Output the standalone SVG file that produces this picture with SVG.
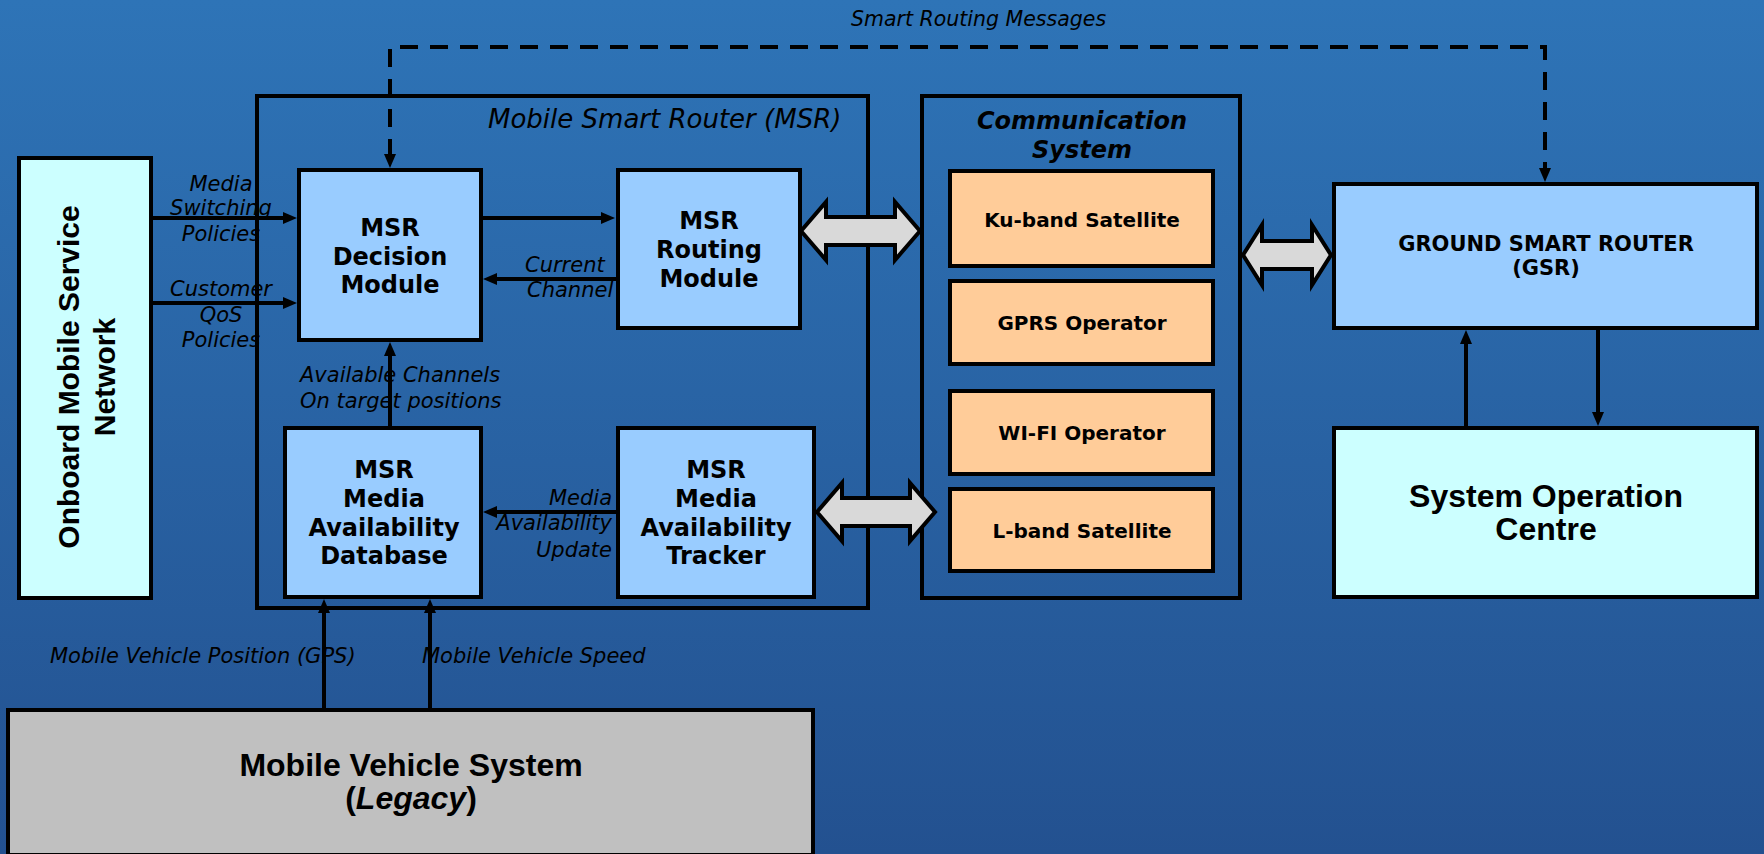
<svg xmlns="http://www.w3.org/2000/svg" width="1764" height="854" viewBox="0 0 1764 854">
<defs>
<linearGradient id="bg" x1="0" y1="0" x2="0" y2="1">
<stop offset="0" stop-color="#2E74B7"/>
<stop offset="1" stop-color="#235190"/>
</linearGradient>
<marker id="ah" viewBox="0 0 14 12" markerWidth="14" markerHeight="12" markerUnits="userSpaceOnUse" refX="3" refY="6" orient="auto-start-reverse">
<path d="M0,0 L14,6 L0,12 z" fill="#000"/>
</marker>
</defs>
<style>
.box{stroke:#000;stroke-width:4}
.blue{fill:#99CCFF}
.cyan{fill:#CCFFFF}
.orange{fill:#FFCC99}
.grey{fill:#C0C0C0}
.cont{fill:none;stroke:#000;stroke-width:4}
.conn{fill:none;stroke:#000;stroke-width:4}
.dash{stroke-dasharray:18 12}
.dbl{fill:#D9D9D9;stroke:#000;stroke-width:4;stroke-linejoin:miter}
.nb{font-family:"DejaVu Sans",Verdana,sans-serif;font-weight:bold;font-size:24px;text-anchor:middle;fill:#000}
.ob{font-family:"DejaVu Sans",Verdana,sans-serif;font-weight:bold;font-size:20px;text-anchor:middle;fill:#000}
.ab{font-family:"Liberation Sans",Arial,sans-serif;font-weight:bold;text-anchor:middle;fill:#000}
.lbl{font-family:"DejaVu Sans",Verdana,sans-serif;font-style:italic;font-size:21px;fill:#000}
</style>
<rect x="0" y="0" width="1764" height="854" fill="url(#bg)"/>

<g id="msr-container">
<rect class="cont" x="257" y="96" width="611" height="512"/>
<text class="lbl" x="488" y="128" style="font-size:26px">Mobile Smart Router (MSR)</text>
</g>
<g id="comm-container">
<rect class="cont" x="922" y="96" width="318" height="502"/>
<text class="nb" x="1082" y="129" style="font-style:italic">Communication</text>
<text class="nb" x="1082" y="158" style="font-style:italic">System</text>
</g>

<g id="onboard">
<rect class="box cyan" x="19" y="158" width="132" height="440"/>
<text class="ab" transform="translate(79,377) rotate(-90)" style="font-size:30px">Onboard Mobile Service</text>
<text class="ab" transform="translate(115,377) rotate(-90)" style="font-size:30px">Network</text>
</g>

<g id="decision">
<rect class="box blue" x="299" y="170" width="182" height="170"/>
<text class="nb" x="390" y="236">MSR</text>
<text class="nb" x="390" y="265">Decision</text>
<text class="nb" x="390" y="293">Module</text>
</g>

<g id="routing">
<rect class="box blue" x="618" y="170" width="182" height="158"/>
<text class="nb" x="709" y="229">MSR</text>
<text class="nb" x="709" y="258">Routing</text>
<text class="nb" x="709" y="287">Module</text>
</g>

<g id="database">
<rect class="box blue" x="285" y="428" width="196" height="169"/>
<text class="nb" x="384" y="478">MSR</text>
<text class="nb" x="384" y="507">Media</text>
<text class="nb" x="384" y="536">Availability</text>
<text class="nb" x="384" y="564">Database</text>
</g>

<g id="tracker">
<rect class="box blue" x="618" y="428" width="196" height="169"/>
<text class="nb" x="716" y="478">MSR</text>
<text class="nb" x="716" y="507">Media</text>
<text class="nb" x="716" y="536">Availability</text>
<text class="nb" x="716" y="564">Tracker</text>
</g>

<g id="ku">
<rect class="box orange" x="950" y="171" width="263" height="95"/>
<text class="ob" x="1082" y="227">Ku-band Satellite</text>
</g>
<g id="gprs">
<rect class="box orange" x="950" y="281" width="263" height="83"/>
<text class="ob" x="1082" y="330">GPRS Operator</text>
</g>
<g id="wifi">
<rect class="box orange" x="950" y="391" width="263" height="83"/>
<text class="ob" x="1082" y="440">WI-FI Operator</text>
</g>
<g id="lband">
<rect class="box orange" x="950" y="489" width="263" height="82"/>
<text class="ob" x="1082" y="538">L-band Satellite</text>
</g>

<g id="gsr">
<rect class="box blue" x="1334" y="184" width="423" height="144"/>
<text class="nb" x="1546" y="251" style="font-size:21px">GROUND SMART ROUTER</text>
<text class="nb" x="1546" y="275" style="font-size:21px">(GSR)</text>
</g>

<g id="soc">
<rect class="box cyan" x="1334" y="428" width="423" height="169"/>
<text class="ab" x="1546" y="507" style="font-size:32px">System Operation</text>
<text class="ab" x="1546" y="540" style="font-size:32px">Centre</text>
</g>

<g id="mvs">
<rect class="box grey" x="8" y="710" width="805" height="145"/>
<text class="ab" x="411" y="776" style="font-size:32px">Mobile Vehicle System</text>
<text class="ab" x="411" y="809" style="font-size:32px">(<tspan font-style="italic">Legacy</tspan>)</text>
</g>

<g id="connectors">
<line class="conn" x1="153" y1="218" x2="286" y2="218" marker-end="url(#ah)"/>
<line class="conn" x1="153" y1="303" x2="286" y2="303" marker-end="url(#ah)"/>
<line class="conn" x1="483" y1="218" x2="604" y2="218" marker-end="url(#ah)"/>
<line class="conn" x1="616" y1="279" x2="494" y2="279" marker-end="url(#ah)"/>
<line class="conn" x1="616" y1="512" x2="494" y2="512" marker-end="url(#ah)"/>
<line class="conn" x1="390" y1="426" x2="390" y2="353" marker-end="url(#ah)"/>
<line class="conn" x1="324" y1="708" x2="324" y2="610" marker-end="url(#ah)"/>
<line class="conn" x1="430" y1="708" x2="430" y2="610" marker-end="url(#ah)"/>
<line class="conn" x1="1598" y1="330" x2="1598" y2="415" marker-end="url(#ah)"/>
<line class="conn" x1="1466" y1="426" x2="1466" y2="341" marker-end="url(#ah)"/>
<path class="conn dash" d="M390,157 L390,47 L1545,47 L1545,171" marker-start="url(#ah)" marker-end="url(#ah)"/>
<polygon class="dbl" points="801,231 826,202 826,217 895,217 895,202 920,231 895,260 895,245 826,245 826,260"/>
<polygon class="dbl" points="817,512 842,483 842,498 910,498 910,483 935,512 910,541 910,526 842,526 842,541"/>
<polygon class="dbl" points="1243,255 1262,225 1262,241 1312,241 1312,225 1331,255 1312,285 1312,269 1262,269 1262,285"/>
<text class="lbl" x="851" y="26" style="font-size:20.5px">Smart Routing Messages</text>
<text class="lbl" x="221" y="191" text-anchor="middle">Media</text>
<text class="lbl" x="221" y="215" text-anchor="middle">Switching</text>
<text class="lbl" x="221" y="241" text-anchor="middle">Policies</text>
<text class="lbl" x="221" y="296" text-anchor="middle">Customer</text>
<text class="lbl" x="221" y="322" text-anchor="middle">QoS</text>
<text class="lbl" x="221" y="347" text-anchor="middle">Policies</text>
<text class="lbl" x="525" y="272">Current</text>
<text class="lbl" x="527" y="297">Channel</text>
<text class="lbl" x="300" y="382">Available Channels</text>
<text class="lbl" x="300" y="408">On target positions</text>
<text class="lbl" x="612" y="505" text-anchor="end">Media</text>
<text class="lbl" x="612" y="530" text-anchor="end">Availability</text>
<text class="lbl" x="612" y="557" text-anchor="end">Update</text>
<text class="lbl" x="50" y="663">Mobile Vehicle Position (GPS)</text>
<text class="lbl" x="422" y="663">Mobile Vehicle Speed</text>
</g>
</svg>
